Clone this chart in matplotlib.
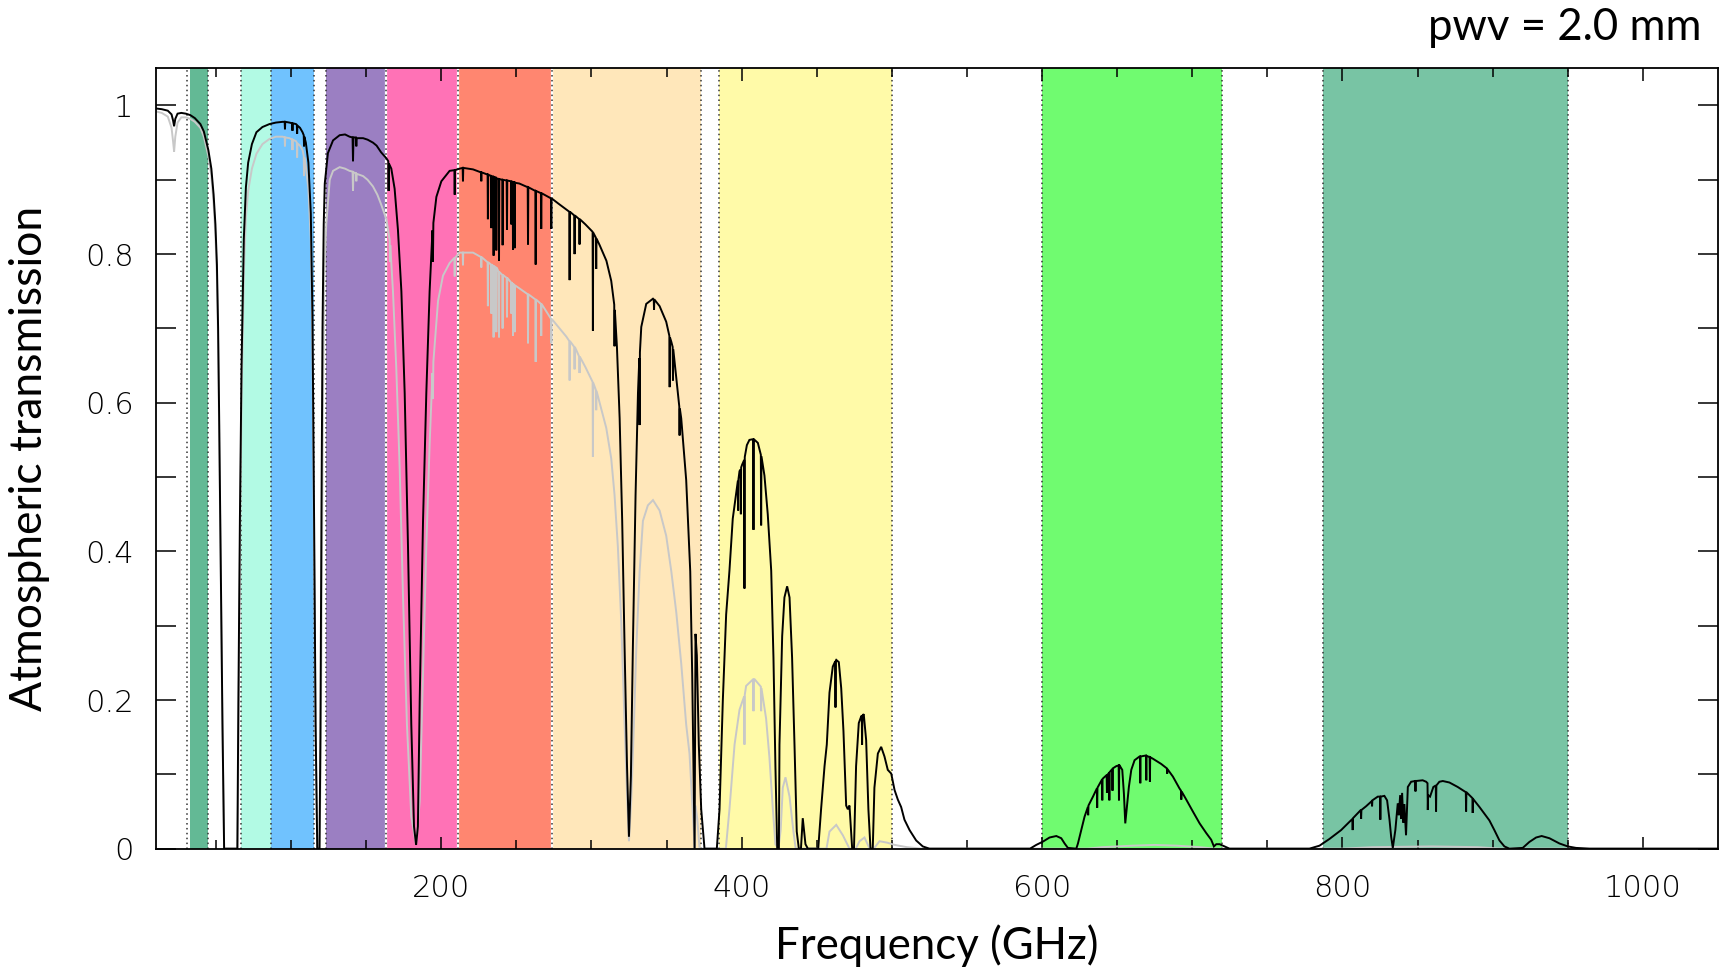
import numpy as np
import matplotlib
matplotlib.use("Agg")
import matplotlib.pyplot as plt
from matplotlib.ticker import FixedLocator, FixedFormatter

# ---------------- data ----------------
band_lo = [33, 67, 86.5, 123.5, 163, 211, 274, 385, 600, 787]
band_hi = [45, 86.5, 115, 163, 211, 274, 373, 500, 720, 950]
band_colors = ['#63b995', '#b2fae4', '#70c2fe', '#9b7fc2', '#ff72b6',
               '#ff8670', '#ffe7ba', '#fffaa8', '#70fb70', '#78c4a4']
edge_lines = [31, 45, 67, 86.5, 115, 123.5, 163, 211, 274, 373, 385, 500,
              600, 720, 787, 950]
white_edges = [163, 211, 274]

x_ticks = [200, 400, 600, 800, 1000]
x_tick_labels = ['200', '400', '600', '800', '1000']
y_ticks = [0, 0.2, 0.4, 0.6, 0.8, 1.0]
y_tick_labels = ['0', '0.2', '0.4', '0.6', '0.8', '1']

black_pts = [
    (10, 0.996), (14, 0.995), (18, 0.993), (20.5, 0.988), (21.5, 0.980), (22.2, 0.972),
    (23.0, 0.982), (24.5, 0.989), (27, 0.990), (30, 0.989), (33, 0.987), (36, 0.983),
    (39.7, 0.975), (42, 0.965), (45, 0.940), (47, 0.915), (48.5, 0.880), (49.7, 0.840),
    (50.7, 0.786), (51.5, 0.700), (52.2, 0.580), (53.3, 0.374), (54.4, 0.168), (55.5, 0.0),
    (64.3, 0.0), (65.0, 0.200), (66.0, 0.443), (67.1, 0.649), (68.6, 0.820), (70.0, 0.890),
    (71.5, 0.923), (74, 0.948), (77, 0.964), (81, 0.971), (85.7, 0.975), (90, 0.977),
    (94.5, 0.978), (95.8, 0.978), (96.0, 0.968), (96.2, 0.978), (99, 0.977), (100.8, 0.976),
    (101.0, 0.966), (101.2, 0.976), (103.3, 0.975), (103.9, 0.974), (104.1, 0.962),
    (104.3, 0.973), (106, 0.970), (107.7, 0.964), (108.5, 0.960), (108.7, 0.945),
    (108.9, 0.958), (109.9, 0.950), (111.6, 0.923), (113.2, 0.855), (114.3, 0.717),
    (115.4, 0.443), (116.4, 0.168), (117.5, 0.0), (119.0, 0.0), (119.6, 0.150),
    (120.3, 0.450), (121.0, 0.700), (121.8, 0.840), (122.5, 0.895), (124.6, 0.936),
    (128, 0.953), (132.4, 0.960), (136, 0.961), (139, 0.958), (141.0, 0.957), (141.3, 0.925),
    (141.6, 0.957), (143.2, 0.957), (143.5, 0.945), (143.8, 0.956), (148, 0.956),
    (151, 0.954), (154.6, 0.950), (157, 0.946), (160, 0.937), (163.5, 0.929), (164.8, 0.925),
    (165.0, 0.885), (165.2, 0.922), (166.8, 0.915), (169, 0.888), (171.2, 0.833),
    (173.5, 0.750), (175.7, 0.613), (177.9, 0.407), (180.1, 0.167), (181.9, 0.030),
    (183.3, 0.005), (184.5, 0.030), (185.7, 0.200), (187.9, 0.440), (190.1, 0.613),
    (192.3, 0.750), (194.2, 0.832), (194.5, 0.790), (194.8, 0.842), (196.8, 0.877),
    (200.1, 0.898), (205.6, 0.912), (208.8, 0.913), (209.0, 0.880), (209.2, 0.913),
    (212.3, 0.915), (214.3, 0.916), (214.5, 0.898), (214.7, 0.916), (221.2, 0.914),
    (226.5, 0.910), (226.7, 0.898), (226.9, 0.910), (230.9, 0.907), (231.1, 0.847),
    (231.3, 0.907), (233.2, 0.905), (233.4, 0.835), (233.6, 0.905), (234.7, 0.904),
    (234.9, 0.798), (235.1, 0.904), (236.5, 0.903), (236.7, 0.805), (236.9, 0.902),
    (238.3, 0.901), (238.5, 0.791), (238.7, 0.901), (240.7, 0.900), (240.9, 0.812),
    (241.1, 0.900), (243.6, 0.899), (243.8, 0.833), (244.0, 0.899), (246.5, 0.898),
    (246.7, 0.840), (246.9, 0.898), (247.6, 0.897), (247.8, 0.806), (248.0, 0.897),
    (248.7, 0.897), (248.9, 0.808), (249.1, 0.896), (252, 0.895), (257.6, 0.890),
    (257.8, 0.813), (258.0, 0.890), (262.7, 0.885), (262.9, 0.786), (263.1, 0.885),
    (266.4, 0.882), (266.6, 0.834), (266.8, 0.882), (273.1, 0.875), (273.3, 0.834),
    (273.5, 0.875), (278, 0.868), (283.3, 0.860), (285.3, 0.857), (285.5, 0.765),
    (285.7, 0.857), (288.6, 0.852), (288.8, 0.800), (289.0, 0.852), (291.9, 0.847),
    (292.1, 0.813), (292.3, 0.847), (296, 0.840), (300.8, 0.830), (301.0, 0.697),
    (301.2, 0.829), (303.0, 0.822), (303.2, 0.780), (303.4, 0.821), (305.5, 0.812),
    (310, 0.791), (313.2, 0.764), (315.2, 0.732), (315.4, 0.676), (315.6, 0.725),
    (317.0, 0.675), (318.8, 0.579), (320.5, 0.441), (322.1, 0.270), (323.7, 0.112),
    (325.0, 0.016), (326.3, 0.098), (327.6, 0.270), (329.4, 0.476), (331.0, 0.613),
    (331.9, 0.660), (332.1, 0.570), (332.3, 0.668), (333.2, 0.702), (336.5, 0.733),
    (341, 0.740), (341.5, 0.739), (341.7, 0.725), (341.9, 0.739), (345.4, 0.730),
    (349.8, 0.709), (351.9, 0.690), (352.1, 0.621), (352.3, 0.688), (353.2, 0.682),
    (354.1, 0.675), (354.3, 0.630), (354.5, 0.672), (356.5, 0.634), (358.5, 0.595),
    (358.7, 0.556), (358.9, 0.592), (359.8, 0.579), (363.1, 0.496), (365.8, 0.373),
    (367.1, 0.235), (368.0, 0.098), (368.7, 0.0), (369.3, 0.289), (370.2, 0.260),
    (371.5, 0.140), (373.1, 0.053), (375.3, 0.0), (383.5, 0.0), (385.3, 0.053),
    (387.5, 0.200), (389.7, 0.315), (391.9, 0.374), (394.1, 0.444), (396.4, 0.479),
    (397.5, 0.495), (397.7, 0.455), (397.9, 0.497), (398.6, 0.508), (399.3, 0.510),
    (399.5, 0.450), (399.7, 0.513), (400.4, 0.517), (401.7, 0.523), (401.9, 0.350),
    (402.1, 0.527), (403.5, 0.543), (405.2, 0.550), (407.7, 0.551), (407.9, 0.429),
    (408.1, 0.551), (410.8, 0.546), (412.8, 0.530), (413.0, 0.435), (413.2, 0.528),
    (415.2, 0.502), (417.4, 0.450), (419.7, 0.374), (421.2, 0.257), (422.5, 0.111),
    (423.7, 0.0), (424.8, 0.0), (425.2, 0.140), (427.0, 0.286), (428.5, 0.338),
    (430.3, 0.353), (431.9, 0.338), (433.6, 0.257), (435.2, 0.140), (436.7, 0.023),
    (438.1, 0.0), (439.5, 0.0), (440.7, 0.041), (442.5, 0.006), (444.1, 0.0), (451.0, 0.0),
    (452.9, 0.053), (455.2, 0.111), (456.7, 0.140), (458.5, 0.210), (460.7, 0.245),
    (462.3, 0.252), (462.5, 0.190), (462.7, 0.253), (463.0, 0.254), (464.7, 0.251),
    (466.3, 0.216), (467.8, 0.158), (469.6, 0.058), (470.7, 0.053), (471.8, 0.058),
    (473.6, 0.0), (474.8, 0.0), (476.2, 0.111), (478.0, 0.169), (479.6, 0.178),
    (480.0, 0.178), (480.2, 0.140), (480.4, 0.179), (481.3, 0.181), (482.9, 0.146),
    (484.4, 0.053), (485.8, 0.0), (487.3, 0.0), (488.4, 0.082), (490.7, 0.128),
    (492.9, 0.137), (495.1, 0.124), (497.3, 0.106), (499.6, 0.101), (501.8, 0.079),
    (504.0, 0.066), (506.2, 0.056), (508.4, 0.039), (511.8, 0.025), (516.2, 0.011),
    (520.6, 0.003), (525, 0.0), (592, 0.0), (596.1, 0.005), (600.6, 0.0095), (605, 0.015),
    (609.5, 0.017), (612.8, 0.014), (615, 0.007), (617.2, 0.001), (622.8, 0.0),
    (623.9, 0.007), (626.1, 0.025), (628.3, 0.043), (630.5, 0.056), (630.7, 0.045),
    (630.9, 0.058), (633.9, 0.070), (636.5, 0.081), (636.7, 0.055), (636.9, 0.082),
    (639.9, 0.093), (640.1, 0.065), (640.3, 0.094), (643.0, 0.099), (643.2, 0.075),
    (643.4, 0.099), (644.6, 0.102), (644.8, 0.065), (645.0, 0.103), (646.7, 0.107),
    (646.9, 0.078), (647.1, 0.108), (649.4, 0.111), (651.0, 0.112), (651.2, 0.065),
    (651.4, 0.112), (651.6, 0.112), (653.4, 0.106), (654.5, 0.074), (655.4, 0.034),
    (656.5, 0.056), (657.8, 0.083), (659.4, 0.106), (661.6, 0.119), (664.9, 0.124),
    (665.2, 0.124), (665.4, 0.088), (665.6, 0.124), (668.2, 0.125), (669.2, 0.125),
    (669.4, 0.092), (669.6, 0.125), (671.6, 0.123), (671.8, 0.090), (672.0, 0.123),
    (673.8, 0.121), (679.3, 0.114), (683.1, 0.108), (683.3, 0.101), (683.5, 0.107),
    (687.1, 0.097), (691.5, 0.081), (692.5, 0.078), (692.7, 0.066), (692.9, 0.077),
    (696.0, 0.066), (700.4, 0.050), (704.9, 0.034), (709.3, 0.021), (712.6, 0.012),
    (714.4, 0.003), (716.0, 0.006), (718.2, 0.006), (721.5, 0.003), (724.8, 0.0),
    (778, 0.0), (784.7, 0.004), (791.3, 0.013), (799.1, 0.025), (806.6, 0.040),
    (806.8, 0.025), (807.0, 0.041), (811.3, 0.050), (812.2, 0.052), (812.4, 0.040),
    (812.6, 0.052), (815.7, 0.057), (819.5, 0.064), (819.7, 0.057), (819.9, 0.065),
    (823.5, 0.070), (825.0, 0.070), (825.2, 0.039), (825.4, 0.070), (827.9, 0.071),
    (829.7, 0.065), (831.3, 0.039), (832.4, 0.016), (833.5, 0.001), (835.2, 0.025),
    (836.8, 0.061), (837.5, 0.045), (838.4, 0.072), (839.0, 0.040), (839.7, 0.075),
    (840.5, 0.035), (841.2, 0.060), (842.3, 0.018), (843.5, 0.083), (845.7, 0.090),
    (848.4, 0.091), (848.6, 0.077), (848.8, 0.091), (853.4, 0.092), (855.7, 0.090),
    (856.6, 0.088), (856.8, 0.052), (857.0, 0.072), (858.3, 0.070), (860.5, 0.083),
    (862.1, 0.085), (862.3, 0.050), (862.5, 0.085), (864.5, 0.090), (866.8, 0.091),
    (871.2, 0.089), (876.7, 0.083), (882.1, 0.076), (882.3, 0.050), (882.5, 0.076),
    (886.5, 0.068), (886.7, 0.048), (886.9, 0.067), (891.2, 0.056), (894.5, 0.047),
    (897.8, 0.038), (901.1, 0.025), (904.5, 0.011), (907.8, 0.003), (911.1, 0.0),
    (920, 0.001), (924.4, 0.009), (928.9, 0.015), (932.6, 0.017), (937.8, 0.014),
    (944.4, 0.007), (950, 0.003), (955.5, 0.001), (964.4, 0.0), (1050, 0.0),
]

grey_pts = [
    (10, 0.992), (14, 0.990), (18, 0.985), (20.5, 0.970), (21.5, 0.952), (22.2, 0.938),
    (23.0, 0.958), (24.5, 0.977), (27, 0.984), (30, 0.984), (33, 0.982), (36, 0.978),
    (39.7, 0.970), (42, 0.958), (45, 0.932), (47, 0.905), (48.5, 0.868), (49.7, 0.825),
    (50.7, 0.770), (51.5, 0.680), (52.2, 0.560), (53.3, 0.355), (54.4, 0.155), (55.5, 0.0),
    (64.5, 0.0), (65.2, 0.190), (66.1, 0.420), (67.2, 0.620), (68.7, 0.780), (70.0, 0.850),
    (71.5, 0.885), (74, 0.915), (77, 0.935), (81, 0.948), (85.7, 0.955), (90, 0.958),
    (94.5, 0.958), (95.8, 0.957), (96.0, 0.945), (96.2, 0.957), (99, 0.956), (100.8, 0.954),
    (101.0, 0.940), (101.2, 0.954), (103.3, 0.952), (103.9, 0.950), (104.1, 0.930),
    (104.3, 0.949), (106, 0.946), (107.7, 0.940), (108.5, 0.932), (108.7, 0.905),
    (108.9, 0.930), (109.9, 0.918), (111.6, 0.888), (113.2, 0.820), (114.3, 0.680),
    (115.4, 0.410), (116.4, 0.150), (117.5, 0.0), (119.0, 0.0), (119.7, 0.100),
    (120.5, 0.350), (121.3, 0.600), (122.2, 0.770), (123.5, 0.840), (125.8, 0.900),
    (128, 0.912), (132.4, 0.917), (136, 0.915), (139, 0.912), (141.0, 0.911), (141.3, 0.885),
    (141.6, 0.910), (143.2, 0.909), (143.5, 0.898), (143.8, 0.908), (148, 0.905),
    (151, 0.900), (154.6, 0.891), (157.5, 0.880), (160, 0.867), (163.5, 0.847),
    (165.7, 0.819), (165.9, 0.790), (166.1, 0.812), (167.9, 0.750), (170.1, 0.647),
    (172.4, 0.510), (174.6, 0.338), (177.2, 0.167), (180.1, 0.043), (183.3, 0.005),
    (185.7, 0.064), (187.9, 0.235), (190.1, 0.407), (192.3, 0.544), (194.2, 0.640),
    (194.5, 0.605), (194.8, 0.655), (197.9, 0.737), (201.2, 0.771), (205.6, 0.788),
    (208.8, 0.795), (209.0, 0.770), (209.2, 0.795), (212.3, 0.802), (214.3, 0.802),
    (214.5, 0.785), (214.7, 0.802), (221.2, 0.802), (226.5, 0.796), (226.7, 0.782),
    (226.9, 0.796), (230.9, 0.789), (231.1, 0.730), (231.3, 0.789), (233.2, 0.786),
    (233.4, 0.720), (233.6, 0.786), (234.7, 0.784), (234.9, 0.688), (235.1, 0.784),
    (236.5, 0.782), (236.7, 0.695), (236.9, 0.782), (238.3, 0.776), (238.5, 0.688),
    (238.7, 0.776), (240.7, 0.772), (240.9, 0.700), (241.1, 0.772), (243.6, 0.768),
    (243.8, 0.715), (244.0, 0.768), (246.5, 0.762), (246.7, 0.720), (246.9, 0.762),
    (247.6, 0.760), (247.8, 0.690), (248.0, 0.760), (248.7, 0.758), (248.9, 0.695),
    (249.1, 0.758), (252, 0.754), (257.6, 0.746), (257.8, 0.680), (258.0, 0.746),
    (262.7, 0.739), (262.9, 0.655), (263.1, 0.739), (266.4, 0.733), (266.6, 0.690),
    (266.8, 0.733), (273.1, 0.713), (273.3, 0.680), (273.5, 0.713), (278, 0.702),
    (283.3, 0.689), (285.3, 0.683), (285.5, 0.630), (285.7, 0.683), (288.6, 0.675),
    (288.8, 0.645), (289.0, 0.675), (291.9, 0.662), (292.1, 0.640), (292.3, 0.662),
    (296, 0.648), (300.8, 0.628), (301.0, 0.527), (301.2, 0.627), (303.0, 0.617),
    (303.2, 0.590), (303.4, 0.616), (305.5, 0.600), (309.9, 0.566), (313.2, 0.525),
    (315.4, 0.476), (317.6, 0.407), (319.9, 0.304), (322.1, 0.167), (323.9, 0.064),
    (325.0, 0.010), (326.5, 0.064), (328.3, 0.167), (329.9, 0.270), (332.1, 0.373),
    (334.3, 0.441), (337.6, 0.462), (341, 0.469), (345.4, 0.455), (349.8, 0.421),
    (353.2, 0.373), (356.5, 0.318), (359.8, 0.249), (363.1, 0.167), (365.3, 0.128),
    (366.5, 0.084), (368.0, 0.030), (368.7, 0.0), (369.3, 0.058), (370.5, 0.040),
    (372.0, 0.0), (389.5, 0.0), (391.9, 0.053), (395.3, 0.140), (398.6, 0.187),
    (401.7, 0.205), (401.9, 0.140), (402.1, 0.207), (403.0, 0.219), (407.7, 0.228),
    (407.9, 0.185), (408.1, 0.228), (408.6, 0.228), (412.8, 0.218), (413.0, 0.185),
    (413.2, 0.216), (416.3, 0.175), (418.5, 0.123), (420.8, 0.053), (422.5, 0.006),
    (424.5, 0.0), (426.0, 0.025), (427.4, 0.082), (429.2, 0.096), (431.9, 0.070),
    (434.5, 0.023), (436.0, 0.0), (456.5, 0.0), (458.5, 0.023), (463.0, 0.032),
    (467.4, 0.018), (471.8, 0.0), (476.0, 0.0), (478.5, 0.010), (481.8, 0.015),
    (485.2, 0.0), (488.0, 0.0), (491.8, 0.010), (497.0, 0.008), (502.0, 0.005),
    (510.0, 0.002), (520.0, 0.0), (630.0, 0.0), (640.0, 0.002), (660.0, 0.004),
    (675.0, 0.005), (690.0, 0.004), (705.0, 0.002), (715.0, 0.0), (800.0, 0.0),
    (820.0, 0.002), (860.0, 0.003), (890.0, 0.002), (905.0, 0.0), (1050.0, 0.0),
]

# ---------------- plot ----------------
FONT = ['Lato', 'DejaVu Sans']
TICKFONT = ['DejaVu Sans']
plt.rcParams['font.family'] = FONT

fig = plt.figure(figsize=(17.27, 9.69), dpi=100)
ax = fig.add_axes([0.0902, 0.1242, 0.9046, 0.8053])

for lo, hi, c in zip(band_lo, band_hi, band_colors):
    ax.axvspan(lo, hi, color=c, lw=0, zorder=0)
for x in white_edges:
    ax.axvline(x, color='white', lw=1.6, zorder=1)
for x in edge_lines:
    ax.axvline(x, color='#333333', lw=1.1, ls=(0, (1, 2.2)), zorder=1.5)

bf, bt = zip(*black_pts)
gf, gt = zip(*grey_pts)
ax.plot(gf, gt, color='#c8c8c8', lw=1.4, zorder=2, solid_joinstyle='miter')
ax.plot(bf, bt, color='black', lw=1.4, zorder=3, solid_joinstyle='miter')

ax.set_xlim(10, 1050)
ax.set_ylim(0, 1.05)

ax.xaxis.set_major_locator(FixedLocator(x_ticks))
ax.xaxis.set_major_formatter(FixedFormatter(x_tick_labels))
ax.xaxis.set_minor_locator(FixedLocator(list(range(50, 1050, 50))))
ax.yaxis.set_major_locator(FixedLocator(y_ticks))
ax.yaxis.set_major_formatter(FixedFormatter(y_tick_labels))
ax.yaxis.set_minor_locator(FixedLocator([0.1, 0.3, 0.5, 0.7, 0.9]))

ax.tick_params(which='both', direction='in', top=True, right=True, width=1.1,
               labelsize=22, colors='black')
ax.tick_params(axis='x', which='major', length=9, pad=18)
ax.tick_params(axis='x', which='minor', length=6.5)
ax.tick_params(axis='y', which='both', length=14.5, pad=16)
for lab in ax.get_xticklabels() + ax.get_yticklabels():
    lab.set_family(TICKFONT)
    lab.set_fontweight('light')

for s in ax.spines.values():
    s.set_linewidth(1.3)
    s.set_zorder(5)

ax.set_xlabel('Frequency (GHz)', fontsize=31.5)
ax.set_ylabel('Atmospheric transmission', fontsize=32)
ax.xaxis.set_label_coords(0.5, -0.097)
ax.yaxis.set_label_coords(-0.068, 0.5)

fig.text(1701.7 / 1727, 1 - 27.5 / 969, 'pwv = 2.0 mm', ha='right', va='center',
         fontsize=31.5)

fig.savefig('out.png', dpi=100)
